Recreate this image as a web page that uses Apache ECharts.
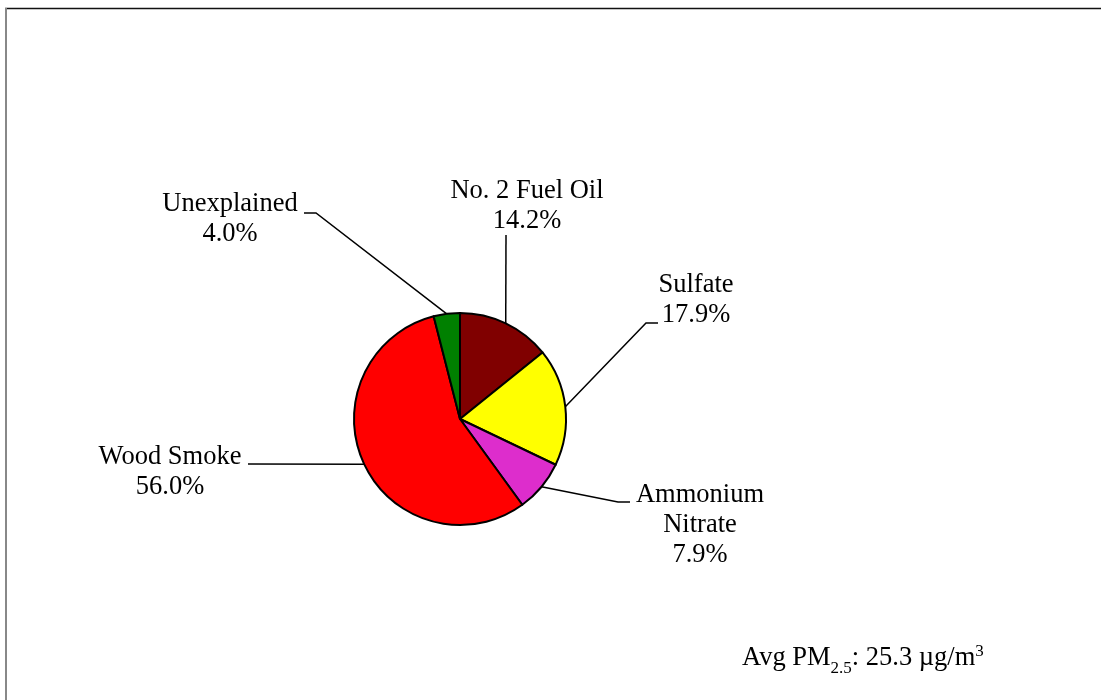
<!DOCTYPE html>
<html>
<head>
<meta charset="utf-8">
<script src="https://cdn.jsdelivr.net/npm/echarts@6/dist/echarts.min.js"></script>
<style>
html,body{margin:0;padding:0;background:#fff;}
#chart{width:1101px;height:700px;}
</style>
</head>
<body>
<div id="chart"></div>
<script>
// ---- data ----
const categories = ['No. 2 Fuel Oil', 'Sulfate', 'Ammonium\nNitrate', 'Wood Smoke', 'Unexplained'];
const shares = [14.2, 17.9, 7.9, 56.0, 4.0];
const sliceColors = ['#800000', '#FFFF00', '#DD2DCC', '#FF0000', '#008000'];
const avgLabel = { prefix: 'Avg PM', sub: '2.5', mid: ': 25.3 \u00b5g/m', sup: '3' };

// ---- label placement (layout only) ----
const labelPlace = [
  { x: 527, y: 206, line: [[506, 235]] },
  { x: 696, y: 300, line: [[646, 323], [658, 323]] },
  { x: 700, y: 525, line: [[618, 502], [630, 502]] },
  { x: 170, y: 472, line: [[248, 464]] },
  { x: 230, y: 219, line: [[316, 213], [304, 213]] }
];

const chart = echarts.init(document.getElementById('chart'), null, { renderer: 'canvas' });
const font = '"Liberation Serif", "Times New Roman", serif';
const fs = 26.5;

const option = {
  animation: false,
  backgroundColor: '#ffffff',
  graphic: [
    { type: 'line', shape: { x1: 5, y1: 8.5, x2: 1101, y2: 8.5 }, style: { stroke: '#111', lineWidth: 1.5 } },
    { type: 'line', shape: { x1: 6, y1: 8, x2: 6, y2: 700 }, style: { stroke: '#888', lineWidth: 2 } },
    {
      type: 'text', left: 742, top: 643,
      style: {
        text: '{a|' + avgLabel.prefix + '}{b|' + avgLabel.sub + '}{a|' + avgLabel.mid + '}{c|' + avgLabel.sup + '}',
        rich: {
          a: { fontFamily: font, fontSize: fs, lineHeight: 30, fill: '#000', verticalAlign: 'middle' },
          b: { fontFamily: font, fontSize: 17, lineHeight: 17, fill: '#000', verticalAlign: 'bottom', padding: [0, 0, -4, 0] },
          c: { fontFamily: font, fontSize: 17, lineHeight: 17, fill: '#000', verticalAlign: 'top', padding: [0, 0, 0, 0] }
        }
      }
    }
  ],
  series: [{
    type: 'pie',
    center: [460, 419],
    radius: 106,
    startAngle: 90,
    clockwise: true,
    avoidLabelOverlap: false,
    data: categories.map((c, i) => ({ name: c, value: shares[i], itemStyle: { color: sliceColors[i] } })),
    itemStyle: { borderColor: '#000', borderWidth: 2 },
    label: {
      show: true,
      position: 'outside',
      formatter: p => p.name + '\n' + p.value.toFixed(1) + '%',
      fontFamily: font,
      fontSize: fs,
      lineHeight: 30,
      color: '#000',
      align: 'center'
    },
    labelLine: {
      show: true,
      length: 20,
      length2: 10,
      smooth: false,
      lineStyle: { color: '#000', width: 1.5 }
    },
    emphasis: { disabled: true },
    labelLayout: function (params) {
      const pl = labelPlace[params.dataIndex];
      const start = params.labelLinePoints ? params.labelLinePoints[0] : null;
      const res = { x: pl.x, y: pl.y, align: 'center', verticalAlign: 'middle' };
      if (start) res.labelLinePoints = [start].concat(pl.line);
      return res;
    }
  }]
};
chart.setOption(option);
</script>
</body>
</html>
